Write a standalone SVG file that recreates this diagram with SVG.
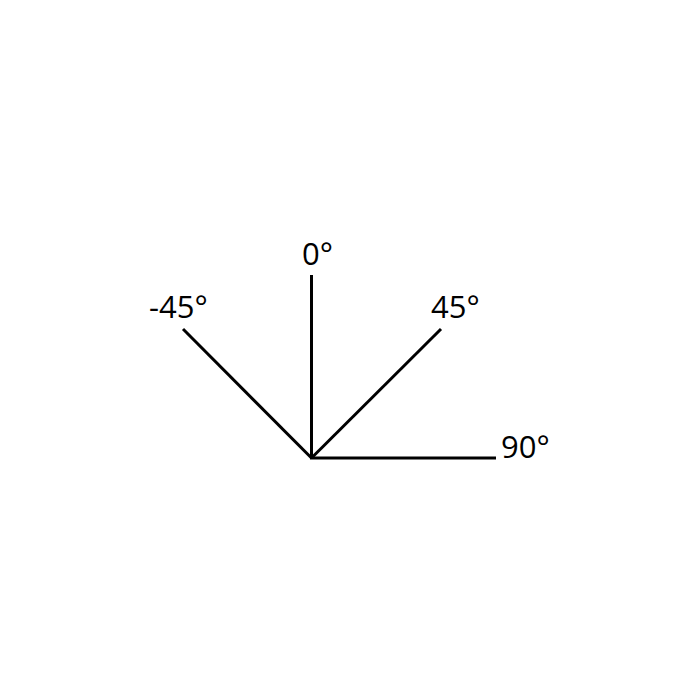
<svg xmlns="http://www.w3.org/2000/svg" width="700" height="700" viewBox="0 0 700 700">
<style>
.ray{stroke:#000;stroke-width:3;fill:none;stroke-linecap:butt}
.lbl{font-family:"Open Sans","Liberation Sans",sans-serif;font-size:31px;fill:#000}
</style>
<rect width="700" height="700" fill="#fff"/>
<g id="connectors">
<line class="ray" x1="311.5" y1="458" x2="311.5" y2="275"/>
<line class="ray" x1="311.5" y1="458" x2="183" y2="329"/>
<line class="ray" x1="311.5" y1="458" x2="441" y2="329"/>
<line class="ray" x1="310" y1="458" x2="496" y2="458"/>
</g>
<g id="label-0"><text class="lbl" x="302" y="265">0°</text></g>
<g id="label-m45"><text class="lbl" x="149" y="318">-45°</text></g>
<g id="label-45"><text class="lbl" x="431" y="318">45°</text></g>
<g id="label-90"><text class="lbl" x="501" y="458">90°</text></g>
</svg>
